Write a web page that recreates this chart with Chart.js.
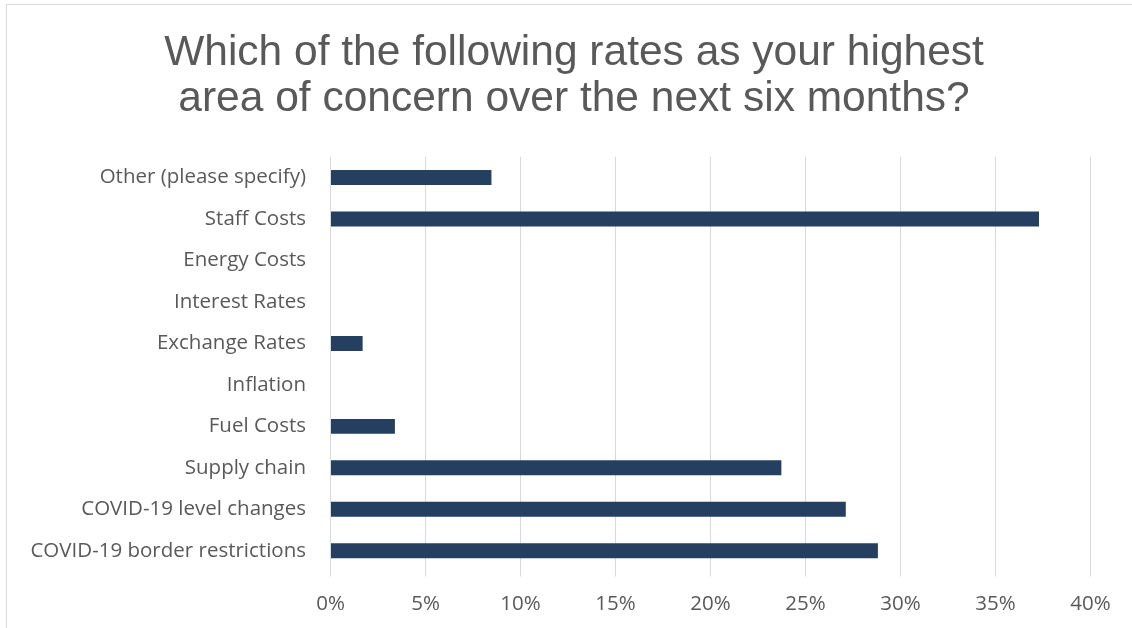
<!DOCTYPE html>
<html>
<head>
<meta charset="utf-8">
<script src="https://cdn.jsdelivr.net/npm/chart.js@4"></script>
<style>
  html, body { margin: 0; padding: 0; background: #ffffff; overflow: hidden; }
  body { width: 1132px; height: 628px; position: relative; }
  #frame { position: absolute; left: 6px; top: 4px; width: 1140px; height: 640px;
           border-left: 1px solid #d9d9d9; border-top: 1px solid #d9d9d9; }
  #chart { position: absolute; left: 1px; top: 1px; }
</style>
</head>
<body>
<div id="frame"><canvas id="chart" width="1132" height="623"></canvas></div>
<script>
// Survey answers, listed top to bottom as they appear on the chart
const categories = [
  'Other (please specify)',
  'Staff Costs',
  'Energy Costs',
  'Interest Rates',
  'Exchange Rates',
  'Inflation',
  'Fuel Costs',
  'Supply chain',
  'COVID-19 level changes',
  'COVID-19 border restrictions'
];
// Share of respondents (%)
const shares = [8.47, 37.29, 0, 0, 1.69, 0, 3.39, 23.73, 27.12, 28.81];
const axisMin = 0;
const axisMax = 40;
const axisStep = 5;
const titleLines = [
  'Which of the following rates as your highest',
  'area of concern over the next six months?'
];

const gridColor = '#d9d9d9';
const textColor = '#595959';
const barColor = '#253f60';
const labelFont = { family: '"Open Sans", Lato, sans-serif', size: 20.5 };

// Centre the title on the whole canvas rather than on the padded layout box.
const fullWidthTitle = {
  id: 'fullWidthTitle',
  afterLayout(chart) {
    if (chart.titleBlock) {
      chart.titleBlock.left = 0;
      chart.titleBlock.right = chart.width;
      chart.titleBlock.width = chart.width;
    }
  }
};

new Chart(document.getElementById('chart'), {
  type: 'bar',
  data: {
    labels: categories,
    datasets: [{
      data: shares,
      backgroundColor: barColor,
      borderWidth: 0,
      categoryPercentage: 1,
      barPercentage: 0.36
    }]
  },
  options: {
    indexAxis: 'y',
    responsive: false,
    animation: false,
    events: [],
    layout: { padding: { left: 0, right: 49.5, top: 0, bottom: 0 } },
    plugins: {
      legend: { display: false },
      tooltip: { enabled: false },
      title: {
        display: true,
        text: titleLines,
        color: textColor,
        font: { family: '"Liberation Sans", Arial, sans-serif', size: 42.5, weight: 'normal', lineHeight: 1.085 },
        padding: { top: 24.3, bottom: 34.3 }
      }
    },
    scales: {
      x: {
        min: axisMin,
        max: axisMax,
        afterFit: (scale) => { scale.height = 57.5; },
        grid: { color: gridColor, lineWidth: 1, drawTicks: true, tickLength: 5, tickColor: gridColor },
        border: { display: false },
        ticks: {
          stepSize: axisStep,
          color: textColor,
          font: labelFont,
          padding: 15,
          callback: (v) => v + '%'
        }
      },
      y: {
        afterFit: (scale) => { scale.width = 322.5; },
        grid: { display: false, drawTicks: false },
        border: { display: false },
        ticks: {
          color: textColor,
          font: labelFont,
          padding: 24.5,
          autoSkip: false
        }
      }
    }
  },
  plugins: [fullWidthTitle]
});
</script>
</body>
</html>
